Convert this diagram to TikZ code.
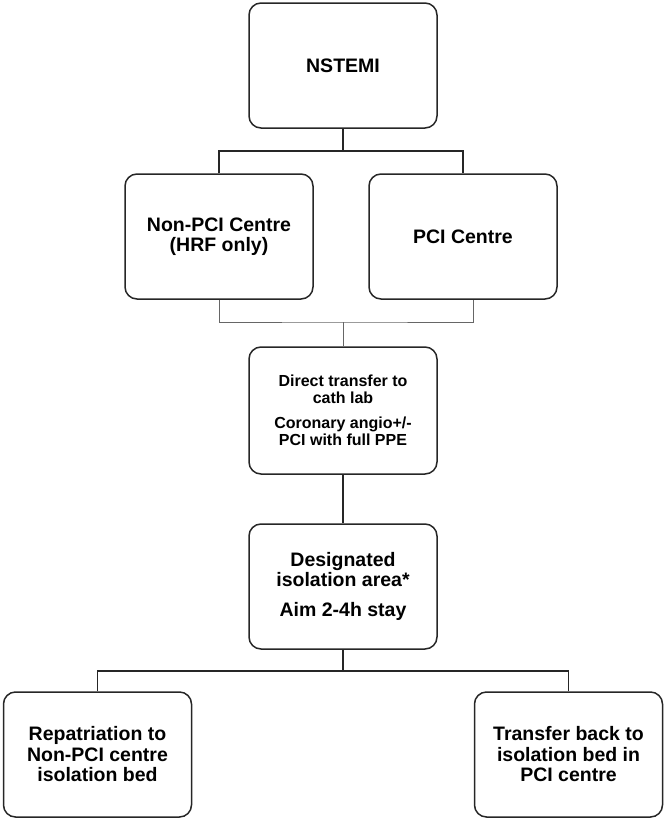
\documentclass[tikz,border=0pt]{standalone}
\usepackage{fontspec}
\setmainfont{Liberation Sans}
\usepackage{tikz}
\usetikzlibrary{positioning}

\begin{document}
\begin{tikzpicture}[x=1pt,y=-1pt,
  box/.style={draw=black!85,line width=1.5pt,rounded corners=12pt,
    minimum width=188pt,minimum height=125pt,inner sep=0pt,align=center,
    font=\bfseries\fontsize{19.5}{20.5}\selectfont},
  link/.style={draw=black!85,line width=1.5pt},
  thinlink/.style={draw=black!60,line width=0.9pt}]
  \useasboundingbox (0,0) rectangle (666,822);
  % boxes
  \node[box] (nstemi) at (343,65.5) {NSTEMI};
  \node[box] (nonpci) at (219,236.5) {Non-PCI Centre\\(HRF only)};
  \node[box] (pci) at (463,236.5) {PCI Centre};
  \node[box,minimum height=127pt,font=\bfseries\fontsize{16}{17}\selectfont] (cath) at (343,410.5)
    {Direct transfer to\\cath lab\\[8pt]Coronary angio+/-\\PCI with full PPE};
  \node[box] (iso) at (343,586.5) {Designated\\isolation area*\\[9.5pt]Aim 2-4h stay};
  \node[box] (repat) at (97.5,754.5) {Repatriation to\\Non-PCI centre\\isolation bed};
  \node[box] (back) at (568.5,754.5) {Transfer back to\\isolation bed in\\PCI centre};
  % connectors
  \coordinate (split1) at (343,151);
  \coordinate (join) at (343,322);
  \coordinate (split2) at (343,671);
  \draw[link] (nstemi.south) -- (split1);
  \draw[link] (nonpci.north) |- (split1) -| (pci.north);
  \draw[thinlink] (nonpci.south) |- (join) -| ([xshift=10pt]pci.south);
  \draw[thinlink] (join) -- (cath.north);
  \draw[link] (cath.south) -- (iso.north);
  \draw[link] (iso.south) -- (split2);
  \draw[link] (repat.north) |- (split2) -| (back.north);
\end{tikzpicture}
\end{document}
